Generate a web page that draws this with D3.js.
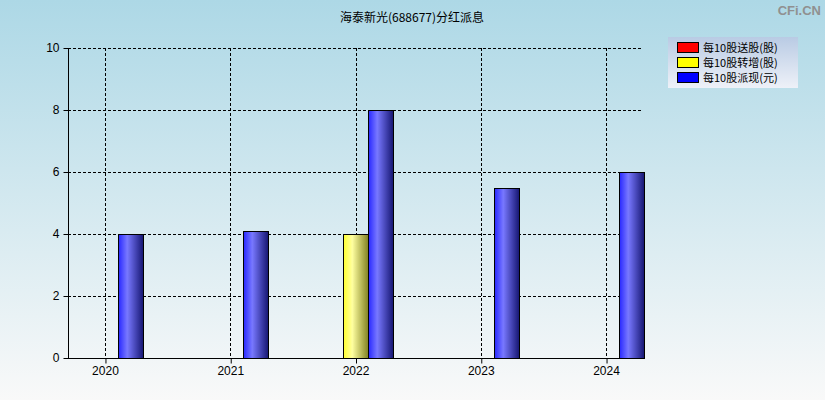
<!DOCTYPE html>
<html>
<head>
<meta charset="utf-8">
<script src="https://cdn.jsdelivr.net/npm/d3@7"></script>
<style>
body{margin:0;padding:0;}
svg{display:block;font-family:"Liberation Sans","DejaVu Sans",sans-serif;}
</style>
</head>
<body>
<svg id="chart"></svg>
<script>
// chart data
var years=["2020","2021","2022","2023","2024"]
var songGu=[0,0,0,0,0]        // 每10股送股(股)
var zhuanZeng=[0,0,4,0,0]     // 每10股转增(股)
var paiXian=[4,4.1,8,5.5,6]   // 每10股派现(元)
var yTicks=[0,2,4,6,8,10]
var seriesNames=["每10股送股(股)","每10股转增(股)","每10股派现(元)"]

var screen={width:825,height:400}
var margins={top:48,bottom:42,left:68,right:182}

var svg=d3.select("#chart")
    .attr("width",screen.width)
    .attr("height",screen.height)

var defs=svg.append("defs")
var bg=defs.append("linearGradient").attr("id","bg").attr("x1",0).attr("y1",0).attr("x2",0).attr("y2",1)
bg.append("stop").attr("offset","0%").attr("stop-color","#add8e6")
bg.append("stop").attr("offset","100%").attr("stop-color","#f9f9f9")

var lg=defs.append("linearGradient").attr("id","lg").attr("x1",0).attr("y1",0).attr("x2",0).attr("y2",1)
lg.append("stop").attr("offset","0%").attr("stop-color","#b9cbe4")
lg.append("stop").attr("offset","100%").attr("stop-color","#eef1f8")

//bar gradients, light stripe left of middle, dark at the right
var makeGrad=function(id,c1,c2,c3){
    var g=defs.append("linearGradient").attr("id",id).attr("x1",0).attr("y1",0).attr("x2",1).attr("y2",0)
    g.append("stop").attr("offset","0%").attr("stop-color",c1)
    g.append("stop").attr("offset","35%").attr("stop-color",c2)
    g.append("stop").attr("offset","100%").attr("stop-color",c3)
}
makeGrad("gRed","#ff2020","#ff8080","#801010")
makeGrad("gYellow","#ffff30","#ffffa0","#808020")
makeGrad("gBlue","#2828ff","#7878ff","#151570")

svg.append("rect").attr("width",screen.width).attr("height",screen.height).attr("fill","url(#bg)")

var x0=margins.left, x1=screen.width-margins.right
var yBottom=screen.height-margins.bottom

var xScale=d3.scalePoint()
    .domain(years)
    .range([x0,x1])
    .padding(0.295)
var yScale=d3.scaleLinear()
    .domain([0,10])
    .range([yBottom,margins.top])

//grid
svg.append("g").selectAll("line.h")
    .data(yTicks.filter(function(d){return d>0}))
    .enter().append("line")
    .attr("x1",x0).attr("x2",x1)
    .attr("y1",function(d){return yScale(d)+0.5})
    .attr("y2",function(d){return yScale(d)+0.5})
    .attr("stroke","#000").attr("stroke-dasharray","3,2")
svg.append("g").selectAll("line.v")
    .data(years)
    .enter().append("line")
    .attr("x1",function(d){return Math.round(xScale(d))+0.5})
    .attr("x2",function(d){return Math.round(xScale(d))+0.5})
    .attr("y1",margins.top).attr("y2",yBottom)
    .attr("stroke","#000").attr("stroke-dasharray","3,2")

//bars
var barW=25
var series=[
    {vals:songGu,fill:"url(#gRed)",off:-1},
    {vals:zhuanZeng,fill:"url(#gYellow)",off:0},
    {vals:paiXian,fill:"url(#gBlue)",off:1}
]
series.forEach(function(s){
    svg.append("g").selectAll("rect")
        .data(years.map(function(y,i){return {year:y,v:s.vals[i]}}).filter(function(d){return d.v>0}))
        .enter().append("rect")
        .attr("x",function(d){return Math.ceil(xScale(d.year)+s.off*barW-barW/2)+0.5})
        .attr("y",function(d){return Math.round(yScale(d.v))+0.5})
        .attr("width",barW)
        .attr("height",function(d){return yBottom-Math.round(yScale(d.v))})
        .attr("fill",s.fill)
        .attr("stroke","#000")
        .attr("stroke-width",1)
})

//axes
var yAxis=d3.axisLeft(yScale).tickValues(yTicks).tickSize(5).tickPadding(4)
var ya=svg.append("g").attr("transform","translate("+(x0+0.5)+",0)").call(yAxis)
var xAxis=d3.axisBottom(xScale).tickSize(5).tickPadding(3)
var xa=svg.append("g").attr("transform","translate(0,"+(yBottom+0.5)+")").call(xAxis)
xa.select(".domain").attr("d","M"+x0+",0H"+x1)
ya.select(".domain").attr("d","M0,"+margins.top+"V"+yBottom)
svg.selectAll(".tick text").attr("font-size",12).attr("fill","#000").attr("font-family","Liberation Sans, sans-serif")
xa.selectAll(".tick line").attr("transform",function(){return "translate(0.5,0)"})

//title
svg.append("text").attr("x",412).attr("y",22).attr("text-anchor","middle")
    .attr("font-size",12).attr("font-family","Noto Sans CJK SC, sans-serif")
    .text("海泰新光(688677)分红派息")
svg.append("text").attr("x",821).attr("y",15).attr("text-anchor","end")
    .attr("font-size",13).attr("font-weight","bold").attr("fill","#909090")
    .text("CFi.CN")

//legend
var legend=svg.append("g").attr("transform","translate(668,37)")
legend.append("rect").attr("width",130).attr("height",51).attr("fill","url(#lg)")
var lfills=["#ff0000","#ffff00","#0000ff"]
seriesNames.forEach(function(n,i){
    legend.append("rect").attr("x",9.5).attr("y",5.5+i*15).attr("width",21).attr("height",10)
        .attr("fill",lfills[i]).attr("stroke","#000")
    legend.append("text").attr("x",35).attr("y",14.5+i*15)
        .attr("font-size",11).attr("font-family","Noto Sans CJK SC, sans-serif")
        .text(n)
})
</script>
</body>
</html>
